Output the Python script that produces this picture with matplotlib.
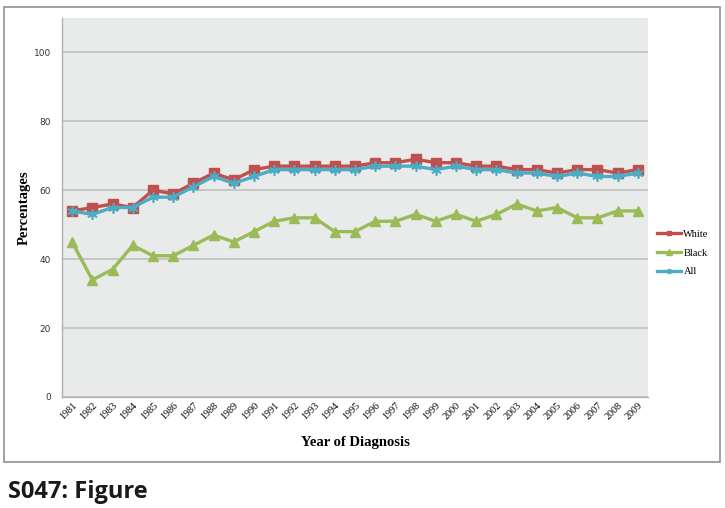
import matplotlib
matplotlib.use("Agg")
import matplotlib.pyplot as plt
from matplotlib.patches import Rectangle

years = list(range(1981, 2010))
white = [54, 55, 56, 55, 60, 59, 62, 65, 63, 66, 67, 67, 67, 67, 67, 68, 68, 69, 68, 68,
         67, 67, 66, 66, 65, 66, 66, 65, 66]
black = [45, 34, 37, 44, 41, 41, 44, 47, 45, 48, 51, 52, 52, 48, 48, 51, 51, 53, 51, 53,
         51, 53, 56, 54, 55, 52, 52, 54, 54]
all_ = [54, 53, 55, 55, 58, 58, 61, 64, 62, 64, 66, 66, 66, 66, 66, 67, 67, 67, 66, 67,
        66, 66, 65, 65, 64, 65, 64, 64, 65]
yticks = [0, 20, 40, 60, 80, 100]

fig = plt.figure(figsize=(7.25, 5.08), dpi=100)
fig.patch.set_facecolor("white")

# outer frame
fig.patches.append(Rectangle((4/725, 1-462/508), (720-4)/725, (462-7)/508,
                             transform=fig.transFigure, fill=False,
                             edgecolor="#9a9a9a", linewidth=1.3))

ax = fig.add_axes([62/725, 1-397/508, (648-62)/725, (397-18)/508])
ax.set_facecolor("#e9eaea")
x = list(range(len(years)))

ax.plot(x, white, color="#c0504d", lw=2.4, marker="s", ms=7, label="White", zorder=3)
ax.plot(x, black, color="#9bbb59", lw=2.4, marker="^", ms=7.5, label="Black", zorder=3)
ax.plot(x, all_, color="#4bacc6", lw=2.4, marker=(6, 2, 0), ms=7.5, mew=1.2,
        label="All", zorder=4)

ax.set_xlim(-0.5, len(years) - 0.5)
ax.set_ylim(0, 110)
ax.set_yticks(yticks)
ax.set_yticklabels([str(v) for v in yticks], fontsize=6.5, color="#333333",
                   family="DejaVu Sans")
ax.yaxis.grid(True, color="#c6c6c6", lw=1.4)
ax.set_axisbelow(True)
ax.set_xticks(x)
ax.set_xticklabels([str(y) for y in years], rotation=45, ha="right", va="top",
                   rotation_mode="anchor", fontsize=7.3, family="Liberation Serif")
ax.tick_params(axis="both", length=0, pad=3)
ax.tick_params(axis="y", pad=8)
for s in ["top", "right"]:
    ax.spines[s].set_visible(False)
for s in ["left", "bottom"]:
    ax.spines[s].set_color("#b0b0b0")
    ax.spines[s].set_linewidth(1.0)

ax.set_ylabel("Percentages", family="Liberation Serif", fontweight="bold",
              fontsize=10.5, labelpad=2)
ax.set_xlabel("Year of Diagnosis", family="Liberation Serif", fontweight="bold",
              fontsize=10.5, labelpad=10)

leg = ax.legend(loc="center left", bbox_to_anchor=(1.0, 0.38), frameon=False,
                prop={"family": "Liberation Serif", "size": 7.5},
                handlelength=2.3, handletextpad=0.2, labelspacing=0.9,
                markerscale=0.5)

fig.text(8/725, 1-492/508, "S047: Figure", fontsize=17, fontweight="bold",
         family="Open Sans", va="center", ha="left", color="#1a1a1a")

fig.savefig("out.png", dpi=100)
